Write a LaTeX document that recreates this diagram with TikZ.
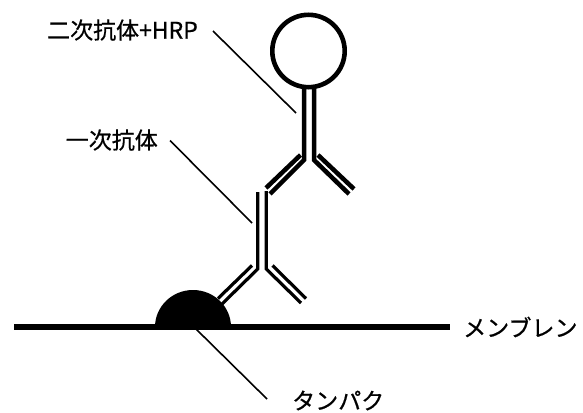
\documentclass[tikz,border=0pt]{standalone}
\usepackage{fontspec}
\setmainfont{Noto Sans CJK JP}
\begin{document}
\begin{tikzpicture}[x=1pt,y=-1pt,
  lbl/.style={inner sep=0pt,font=\fontsize{23}{27}\selectfont\addfontfeature{FakeBold=0.6}},
  leader/.style={line width=1.6pt},
  heavy2/.style={line width=4.5pt},
  heavy1/.style={line width=3.2pt},
  membrane/.style={line width=5.5pt}]
\useasboundingbox (0,0) rectangle (583,412);

% HRP enzyme
\draw[line width=4.6pt] (308.5,51) circle (36.2);

% secondary antibody (stem up, arms down)
\draw[heavy2] (304,87) -- (304,160) -- (270,194);
\draw[heavy2] (314,87) -- (314,160) -- (349,194);
\draw[heavy2] (300.5,155) -- (266,188);
\draw[heavy2] (318,155) -- (354,189);

% primary antibody
\draw[heavy1] (257.7,192) -- (257.7,269) -- (222,304);
\draw[heavy1] (266.3,191) -- (266.3,269) -- (301,303);
\draw[heavy1] (252,265.5) -- (218,298.5);
\draw[heavy1] (272.5,265.5) -- (306,298.5);

% protein on the membrane
\fill (155,327) arc[start angle=180,end angle=0,x radius=38,y radius=-37] -- cycle;
\coordinate (prot) at (195,328);
\draw[membrane] (14,327) -- (450,327);

% labels
\node[lbl,anchor=east] (sec) at (198,30) {二次抗体+HRP};
\node[lbl,anchor=east] (pri) at (158,140) {一次抗体};
\node[lbl,anchor=west] (mem) at (463,327) {メンブレン};
\node[lbl,anchor=west] (tan) at (292,400.5) {タンパク};

% leader lines
\coordinate (secend) at (296,113);
\coordinate (priend) at (252,223);
\coordinate (tanend) at (267,399);
\draw[leader] (213,31) -- (secend);
\draw[leader] (170,140.5) -- (priend);
\draw[leader] (prot) -- (tanend);
\end{tikzpicture}
\end{document}
